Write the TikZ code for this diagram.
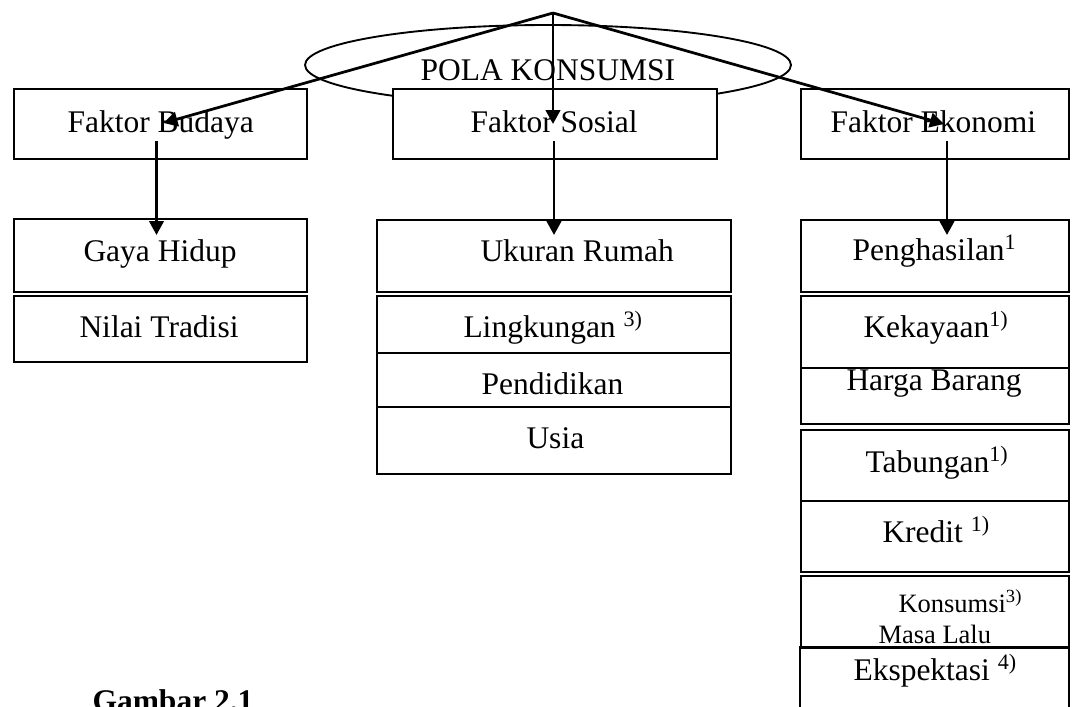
\documentclass[tikz,border=0pt]{standalone}
\usepackage{fontspec}
\setmainfont{Liberation Serif}
\usetikzlibrary{shapes.geometric,arrows.meta,calc}
\begin{document}
\begin{tikzpicture}[x=0.4pt,y=-0.4pt,
  box/.style={draw,line width=0.8pt,fill=white,inner sep=0,anchor=north west},
  openbox/.style={draw=none,inner sep=0,anchor=north west},
  txt/.style={inner sep=0,anchor=base west,font=\fontsize{12.6}{15}\selectfont},
  smalltxt/.style={inner sep=0,anchor=base west,font=\fontsize{10.6}{13}\selectfont},
  captxt/.style={inner sep=0,anchor=base west,font=\fontsize{12.6}{15}\selectfont\bfseries},
  arr/.style={line width=1.1pt,-{Triangle[length=5.6pt,width=5.8pt]}}]
\useasboundingbox (0,0) rectangle (1075,707);
% ellipse
\node[draw,line width=0.75pt,ellipse,inner sep=0,minimum width=486*0.4pt,minimum height=80*0.4pt] (pola) at (548,65) {};
% top row
\node[box,minimum width=293*0.4pt,minimum height=70*0.4pt] (fb) at (13,88) {};
\node[box,minimum width=324*0.4pt,minimum height=70*0.4pt] (fs) at (392,88) {};
\node[box,minimum width=268*0.4pt,minimum height=70*0.4pt] (fe) at (800,88) {};
% left column
\node[box,minimum width=293*0.4pt,minimum height=73*0.4pt] (gh) at (13,218) {};
\node[box,minimum width=293*0.4pt,minimum height=66*0.4pt] (nt) at (13,295) {};
% middle column
\node[box,minimum width=354*0.4pt,minimum height=72*0.4pt] (ur) at (376,219) {};
\node[box,minimum width=354*0.4pt,minimum height=57*0.4pt] (lk) at (376,295) {};
\node[box,minimum width=354*0.4pt,minimum height=54*0.4pt] (pd) at (376,352) {};
\node[box,minimum width=354*0.4pt,minimum height=67*0.4pt] (us) at (376,406) {};
% right column
\node[box,minimum width=268*0.4pt,minimum height=72*0.4pt] (ph) at (800,219) {};
\node[box,minimum width=268*0.4pt,minimum height=72*0.4pt] (kk) at (800,295) {};
\node[box,minimum width=268*0.4pt,minimum height=56*0.4pt] (hb) at (800,367) {};
\node[box,minimum width=268*0.4pt,minimum height=71*0.4pt] (tb) at (800,429) {};
\node[box,minimum width=268*0.4pt,minimum height=71*0.4pt] (kr) at (800,500) {};
\node[box,minimum width=268*0.4pt,minimum height=72*0.4pt] (km) at (800,575) {};
\node[openbox,minimum width=268*0.4pt,minimum height=60*0.4pt] (ek) at (800,647) {};
\draw[line width=0.8pt] (ek.south west) -- (ek.north west) -- (ek.north east) -- (ek.south east);
% texts
\node[txt] (tpola) at (420,80) {POLA KONSUMSI};
\node[txt] (tfb) at (67,132) {Faktor Budaya};
\node[txt] (tfs) at (470,132) {Faktor Sosial};
\node[txt] (tfe) at (830,132) {Faktor Ekonomi};
\node[txt] (tgh) at (83,261) {Gaya Hidup};
\node[txt] (tnt) at (79,337) {Nilai Tradisi};
\node[txt] (tur) at (480,261) {Ukuran Rumah};
\node[txt] (tlk) at (463,337) {Lingkungan \textsuperscript{3)}};
\node[txt] (tpd) at (481,394) {Pendidikan};
\node[txt] (tus) at (526,448) {Usia};
\node[txt] (tph) at (852,260) {Penghasilan\textsuperscript{1}};
\node[txt] (tkk) at (863,337) {Kekayaan\textsuperscript{1)}};
\node[txt] (thb) at (846,390) {Harga Barang};
\node[txt] (ttb) at (865,472) {Tabungan\textsuperscript{1)}};
\node[txt] (tkr) at (882,542) {Kredit \textsuperscript{1)}};
\node[smalltxt] (tkm1) at (898,612) {Konsumsi\textsuperscript{3)}};
\node[smalltxt] (tkm2) at (878,643) {Masa Lalu};
\node[txt] (tek) at (853,680) {Ekspektasi \textsuperscript{4)}};
\node[captxt] (tgam) at (92,711) {Gambar 2.1};
% arrows
\coordinate (apex) at (553,13);
\draw[arr] (apex) -- ($(fb.center)+(3,-1)$);
\draw[arr] (apex) -- (apex |- fs.center);
\draw[arr] (apex) -- ($(fe.center)+(9,0)$);
\draw[arr] ($(fb.center)+(-4,17)$) -- ($(gh.north)+(-4,17)$);
\draw[arr] ($(fs.center)+(-1,17)$) -- ($(ur.north)+(0,16)$);
\draw[arr] ($(fe.center)+(12,17)$) -- ($(ph.north)+(12,16)$);
\end{tikzpicture}
\end{document}
